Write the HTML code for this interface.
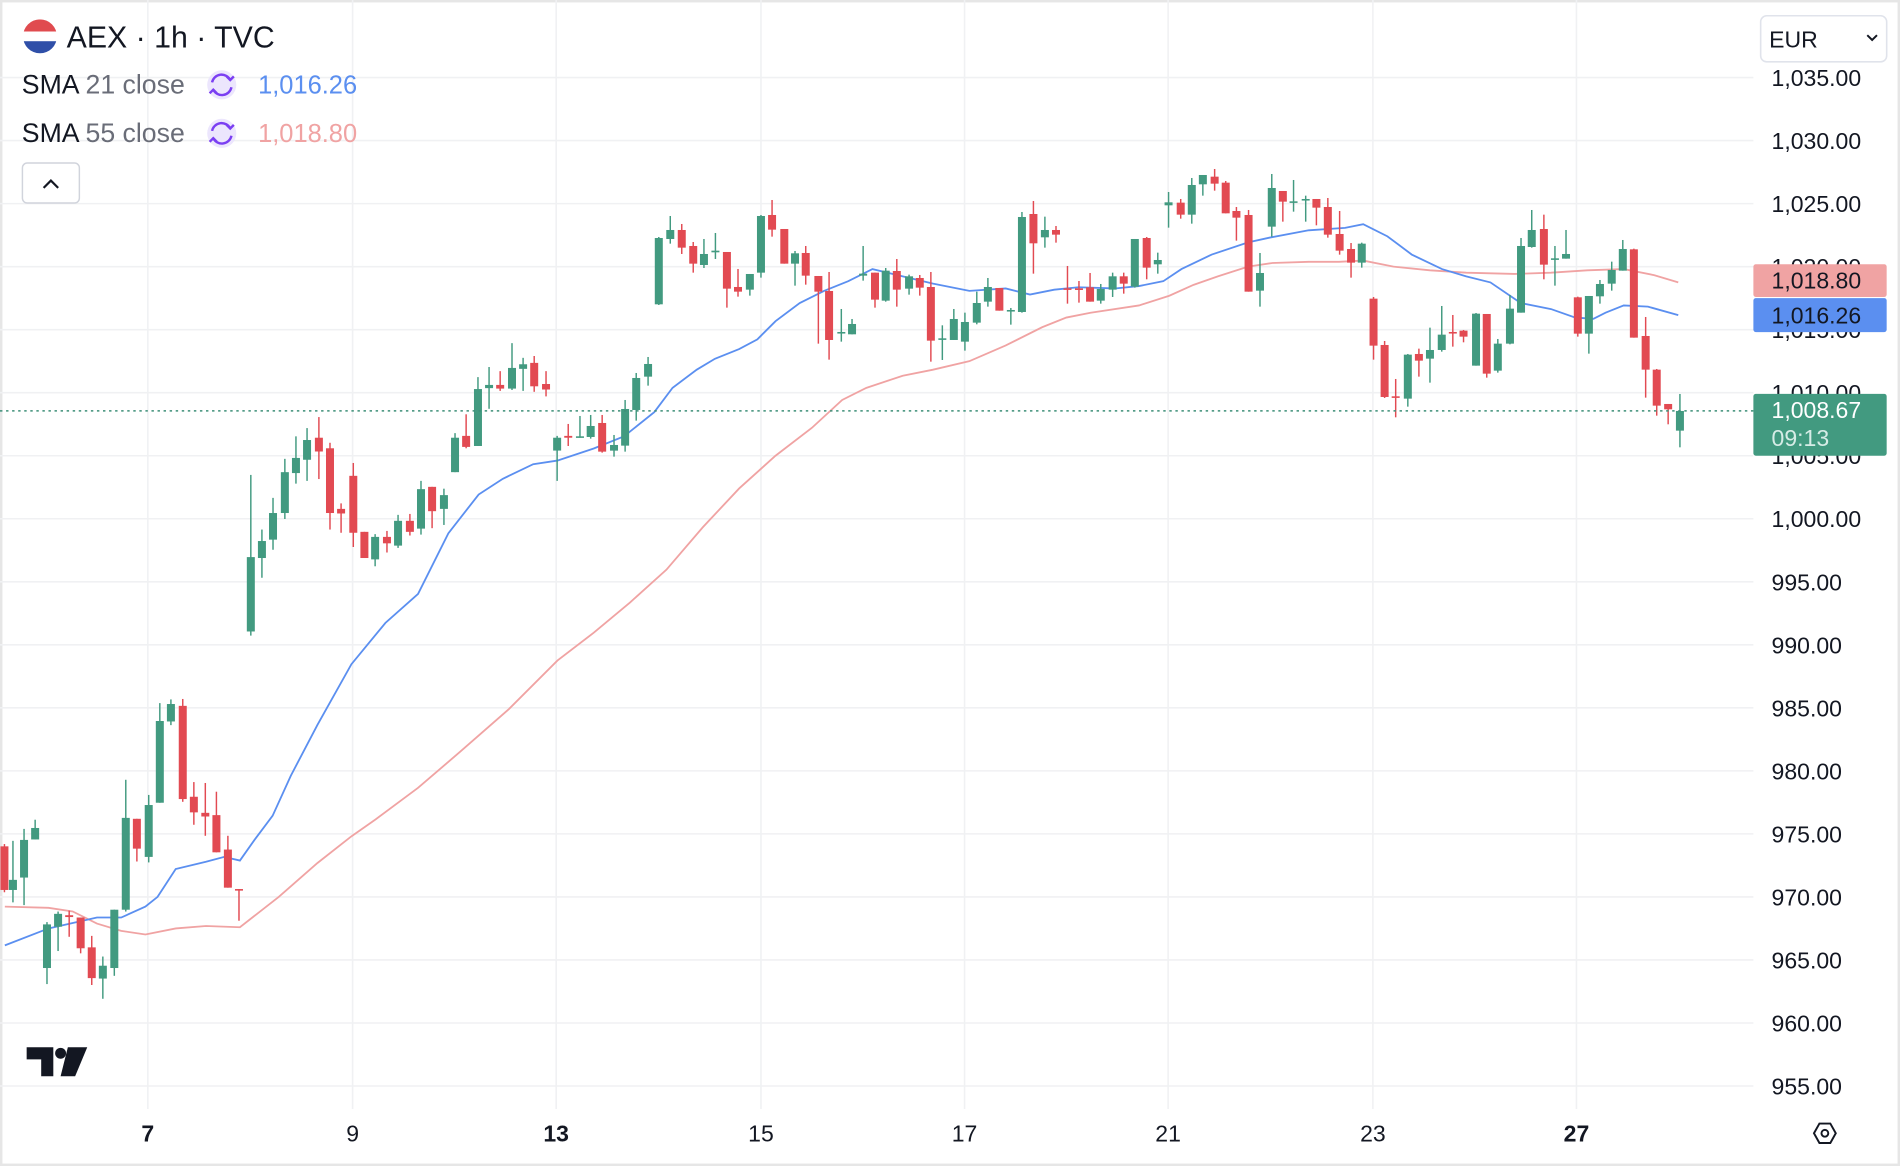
<!DOCTYPE html>
<html><head><meta charset="utf-8"><style>
html,body{margin:0;padding:0;background:#fff;overflow:hidden}
svg{display:block}
text{font-family:"Liberation Sans",sans-serif}
</style></head><body>
<svg id="s" width="1900" height="1166" viewBox="0 0 1568 962" preserveAspectRatio="none" xmlns="http://www.w3.org/2000/svg">
<rect x="0.5" y="0.5" width="1567" height="961" fill="#fff" stroke="#e6e6e6" stroke-width="3"/>
<g id="grid" stroke="#f0f1f3" stroke-width="1.3"></g>
<g id="lines"></g>
<g id="candles"></g>
<line x1="0" y1="339" x2="1447" y2="339" stroke="#3d8f78" stroke-width="1.3" stroke-dasharray="2,3"/>
<g id="ylab" font-size="19" fill="#131722"></g>
<g font-size="19" fill="#131722" text-anchor="middle">
<text x="122" y="942" font-weight="bold">7</text>
<text x="291" y="942">9</text>
<text x="459" y="942" font-weight="bold">13</text>
<text x="628" y="942">15</text>
<text x="796" y="942">17</text>
<text x="964" y="942">21</text>
<text x="1133" y="942">23</text>
<text x="1301" y="942" font-weight="bold">27</text>
</g>
<polygon points="1497,935 1501.5,927 1510.5,927 1515,935 1510.5,943 1501.5,943" fill="none" stroke="#131722" stroke-width="1.6"/>
<circle cx="1506" cy="935" r="2.8" fill="none" stroke="#131722" stroke-width="1.6"/>
<rect x="1447" y="218" width="110" height="27" rx="2" fill="#f0a3a3"/>
<text x="1462" y="238" font-size="19" fill="#131722">1,018.80</text>
<rect x="1447" y="246" width="110" height="28" rx="2" fill="#5b8ff0"/>
<text x="1462" y="267" font-size="19" fill="#131722">1,016.26</text>
<rect x="1447" y="325" width="110" height="51" rx="2" fill="#429a80"/>
<text x="1462" y="345" font-size="19" fill="#fff">1,008.67</text>
<text x="1462" y="368" font-size="19" fill="#d6ece6">09:13</text>
<defs><clipPath id="fc"><circle cx="33" cy="30" r="14"/></clipPath></defs>
<g clip-path="url(#fc)"><rect x="19" y="16" width="28" height="10" fill="#e04b4f"/><rect x="19" y="26" width="28" height="8" fill="#fff"/><rect x="19" y="34" width="28" height="10" fill="#2f4fa8"/></g>
<text x="55" y="39" font-size="25" fill="#131722">AEX · 1h · TVC</text>
<text x="18" y="77" font-size="22" fill="#131722">SMA <tspan fill="#6a6d78">21 close</tspan></text>
<text x="18" y="117" font-size="22" fill="#131722">SMA <tspan fill="#6a6d78">55 close</tspan></text>
<g fill="none" stroke="#7b3ff2" stroke-width="2">
<circle cx="183" cy="70" r="12" fill="#ece6fd" stroke="none"/>
<path d="M175,68 A8,8 0 0 1 190,66 M191,72 A8,8 0 0 1 176,74"/>
<polyline points="187,63 190,66 193,63"/><polyline points="173,77 176,74 179,77"/>
<circle cx="183" cy="110" r="12" fill="#ece6fd" stroke="none"/>
<path d="M175,108 A8,8 0 0 1 190,106 M191,112 A8,8 0 0 1 176,114"/>
<polyline points="187,103 190,106 193,103"/><polyline points="173,117 176,114 179,117"/>
</g>
<text x="213" y="77" font-size="21" fill="#5b8ff0">1,016.26</text>
<text x="213" y="117" font-size="21" fill="#f0a3a3">1,018.80</text>
<rect x="18.5" y="134.5" width="47" height="33" rx="4" fill="#fff" stroke="#d1d4dc" stroke-width="1.2"/>
<polyline points="36,155 42,149 48,155" fill="none" stroke="#131722" stroke-width="1.8"/>
<g fill="#131722">
<path d="M22,864 H44 V888 H34 V874 H22 Z"/>
<circle cx="50" cy="869" r="4.5"/>
<path d="M56,864 H72 L62,888 H50 Z"/>
</g>
<g id="eur">
<rect x="1453" y="13" width="104" height="38" rx="5" fill="#fff" stroke="#e0e3eb" stroke-width="1.3"/>
<text x="1460" y="39" font-size="19" fill="#131722">EUR</text>
<polyline points="1541,29 1545,33 1549,29" fill="none" stroke="#131722" stroke-width="1.6"/>
</g>
</svg>
<script>
var NS="http://www.w3.org/2000/svg";
function el(p,t,a){var e=document.createElementNS(NS,t);for(var k in a)e.setAttribute(k,a[k]);p.appendChild(e);return e;}
var grid=document.getElementById('grid'),ylab=document.getElementById('ylab');
for(var i=0;i<=16;i++){var y=64+i*52;el(grid,'line',{x1:0,y1:y,x2:1447,y2:y});
 var v=1035-5*i;var t=el(ylab,'text',{x:1462,y:y+7});t.textContent=(v>=1000?"1,"+String(v-1000).padStart(3,"0"):String(v))+".00";}
[122,291,459,628,796,964,1133,1301].forEach(function(x){el(grid,'line',{x1:x,y1:0,x2:x,y2:915});});
var segs=[
{ox:0,sx:0.3053,oy:247.5,sy:0.3788,c:[
[12,0,1190,1285,1185,1290],[35,1,1263,1285,1178,1312],[65,1,1176,1258,1152,1318],[95,1,1150,1175,1132,1175],
[127,1,1360,1455,1355,1490],[157,1,1337,1365,1332,1418],[187,0,1340,1344,1330,1387],[218,0,1345,1412,1345,1423],
[248,0,1410,1477,1385,1492],[278,1,1450,1478,1430,1522],[309,1,1328,1455,1328,1472],[340,1,1128,1328,1045,1332],
[370,0,1130,1195,1130,1223],[402,1,1100,1213,1078,1225],[432,1,917,1095,878,1095],[462,1,880,918,870,926],
[494,0,884,1087,869,1093],[524,0,1082,1116,1050,1143],[555,0,1117,1125,1052,1167],[585,0,1122,1203,1071,1203],
[616,0,1197,1280,1167,1280],[646,0,1283,1286,1283,1352],[678,1,560,722,381,731],[708,1,525,562,500,605],
[738,1,464,522,431,544],[770,1,375,464,346,477],[800,1,344,377,297,400],[830,1,305,348,279,394],
[862,0,300,330,255,390],[892,0,323,464,311,500],[922,0,455,465,443,507],[955,0,383,507,355,538],
[985,0,505,562,505,562],[1014,1,516,565,510,580],[1046,0,516,530,503,550],[1076,1,481,535,468,540],
[1108,0,481,505,466,513],[1138,1,412,498,394,511],[1168,0,407,460,407,497],[1200,1,425,455,411,490],
[1230,1,300,375,290,375],[1260,0,296,320,249,323],[1292,1,194,318,168,318],[1322,1,185,192,146,237],
[1352,0,185,193,155,198],[1384,1,148,193,94,196],[1414,1,140,150,126,198],[1444,0,137,188,122,200],
[1476,0,183,195,155,210],[1506,1,300,328,296,394],[1536,0,296,300,270,318]]},
{ox:462.2,sx:0.3158,oy:148.5,sy:0.275,c:[
[52,1,769,773,708,773],[80,1,738,771,705,776],[110,0,729,815,705,818],[141,1,795,812,765,830],
[170,1,687,797,660,815],[199,1,594,690,579,722],[230,1,552,590,531,617],[258,1,174,373,171,375],
[288,1,150,177,108,191],[318,0,150,203,132,222],[348,0,198,251,186,278],[376,1,222,255,177,264],
[406,1,212,217,159,237],[436,0,216,326,216,383],[465,0,321,335,267,350],[496,1,282,329,282,347],
[525,1,108,278,105,293],[554,0,105,149,60,170],[586,0,147,251,147,251],[614,1,220,251,213,317],
[642,0,219,287,198,314],[675,0,288,335,288,491],[703,0,333,480,276,539],[735,1,456,460,387,485],
[763,1,432,463,417,463],[792,1,281,287,198,302],[823,0,278,359,278,383],[851,1,272,362,264,365],
[880,0,273,329,237,380],[912,1,289,326,284,344],[940,0,294,323,285,347],[969,0,321,482,276,545],
[999,1,475,478,436,540],[1029,1,417,480,387,480],[1058,1,426,485,398,512],[1089,1,369,428,335,433],
[1118,1,321,365,294,380],[1148,0,324,392,324,392],[1178,1,390,394,384,434],[1207,1,111,396,96,398],
[1237,0,102,190,63,281],[1267,1,150,172,110,203],[1296,0,150,164,138,188],[1326,0,325,329,258,371],
[1356,0,325,330,303,368],[1385,0,322,365,279,365],[1413,1,327,362,312,371],[1444,1,289,329,278,351],
[1473,0,289,311,278,341],[1502,1,177,320,177,323],[1533,0,174,263,171,298],[1562,1,240,253,218,281]]},
{ox:940.8,sx:0.2947,oy:132.0,sy:0.275,c:[
[80,1,127,136,96,203],[114,0,128,164,117,176],[145,1,75,164,54,191],[176,1,45,73,45,107],
[209,0,50,71,27,92],[240,0,68,160,63,160],[270,0,153,173,141,242],[304,0,165,395,150,395],
[336,1,339,392,279,440],[369,1,84,200,42,230],[400,0,93,125,93,185],[430,1,124,128,60,155],
[464,1,117,121,107,185],[494,0,117,143,117,196],[526,0,141,224,114,233],[559,0,222,272,153,284],
[591,0,267,308,249,353],[621,1,251,308,248,323],[654,0,416,557,411,599],[685,0,555,711,543,714],
[716,0,709,712,657,772],[750,1,584,716,582,740],[781,0,582,602,566,650],[812,1,570,596,503,668],
[845,1,524,570,438,575],[876,0,516,520,465,560],[906,0,512,530,510,547],[941,1,461,617,459,617],
[971,0,462,641,462,653],[1002,1,551,632,537,638],[1036,1,446,551,405,553],[1067,1,258,458,234,458],
[1097,1,210,261,150,263],[1131,0,207,314,164,358],[1162,1,295,299,258,377],[1193,1,282,296,210,296],
[1226,0,412,521,410,530],[1257,1,408,521,408,581],[1288,1,372,409,360,431],[1321,1,330,371,305,392],
[1352,1,267,332,240,332],[1383,0,268,533,266,533],[1416,0,528,629,471,713],[1447,0,629,737,627,767],
[1479,0,732,748,732,793],[1512,1,753,812,702,862]]}];
var cg=document.getElementById('candles');
segs.forEach(function(s){s.c.forEach(function(c){
 var x=s.ox+c[0]*s.sx,col=c[1]?"#429a80":"#e24a52";
 var bt=s.oy+c[2]*s.sy,bb=s.oy+c[3]*s.sy,wt=s.oy+c[4]*s.sy,wb=s.oy+c[5]*s.sy;
 el(cg,'rect',{x:x-0.6,y:wt,width:1.2,height:Math.max(wb-wt,1),fill:col});
 el(cg,'rect',{x:x-3.3,y:bt,width:6.6,height:Math.max(bb-bt,1.3),fill:col});
});});
var lg=document.getElementById('lines');
var blue=[[4,780],[40,766],[80,757],[100,757],[120,748],[130,740],[145,717],[170,711],[185,707],[198,710],[210,693],[225,673],[240,640],[262,598],[290,548],[318,514],[345,490],[370,440],[395,408],[415,395],[440,383],[460,380],[490,370],[515,360],[540,340],[555,320],[575,305],[590,296],[610,288],[625,280],[640,265],[660,250],[680,240],[700,232],[720,222],[745,228],[770,234],[800,240],[830,238],[850,243],[870,239],[890,237],[920,238],[940,236],[960,232],[975,222],[1000,210],[1030,200],[1048,196],[1080,190],[1110,188],[1125,185],[1145,195],[1165,210],[1190,222],[1210,228],[1230,233],[1255,250],[1280,255],[1300,262],[1315,263],[1325,258],[1340,252],[1360,253],[1385,260]];
var pink=[[4,748],[40,749],[60,752],[80,762],[100,768],[120,771],[145,766],[170,764],[198,765],[230,740],[262,712],[290,690],[310,676],[345,650],[380,620],[420,585],[460,545],[490,522],[520,497],[550,470],[580,435],[610,403],[640,376],[670,353],[695,330],[715,320],[745,310],[770,305],[800,298],[830,285],[860,270],[880,262],[900,258],[940,252],[965,244],[985,235],[1005,228],[1030,220],[1050,217],[1080,216],[1105,216],[1125,215],[1150,220],[1180,223],[1210,225],[1250,226],[1280,225],[1310,223],[1340,222],[1365,227],[1385,233]];
el(lg,'polyline',{points:pink.join(' '),fill:'none',stroke:'#f0a3a3','stroke-width':1.5});
el(lg,'polyline',{points:blue.join(' '),fill:'none',stroke:'#5b8ff0','stroke-width':1.5});
</script>
</body></html>
